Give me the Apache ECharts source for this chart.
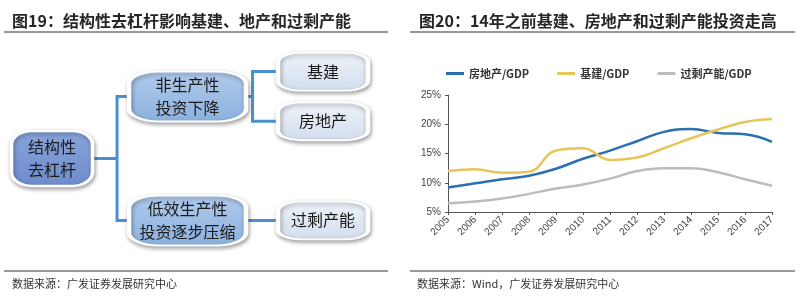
<!DOCTYPE html>
<html>
<head>
<meta charset="utf-8">
<script src="https://cdn.jsdelivr.net/npm/echarts@6/dist/echarts.min.js"></script>
<style>
  html, body { margin: 0; padding: 0; background: #fff; }
  #chart { width: 800px; height: 296px; }
</style>
</head>
<body>
<div id="chart"></div>
<script>
// left panel: the diagram
const rootLabel = '结构性\n去杠杆'
const midLabels = ['非生产性\n投资下降', '低效生产性\n投资逐步压缩']
const leafLabels = [['基建', '房地产'], ['过剩产能']]

// right panel: share of GDP, %
const years = ['2005', '2006', '2007', '2008', '2009', '2010', '2011', '2012', '2013', '2014', '2015', '2016', '2017']
const realEstate = [9.2, 9.9, 10.6, 11.2, 12.4, 14.1, 15.5, 17.1, 18.7, 19.2, 18.5, 18.3, 17.0]
const infra = [12.0, 12.3, 11.7, 11.9, 15.5, 15.9, 13.9, 14.3, 15.9, 17.6, 19.1, 20.4, 20.9]
const overCapacity = [6.5, 6.8, 7.3, 8.1, 9.0, 9.7, 10.7, 12.0, 12.5, 12.5, 11.8, 10.6, 9.5]
const seriesNames = ['房地产/GDP', '基建/GDP', '过剩产能/GDP']
const yTicks = [5, 10, 15, 20, 25]

const colorSets = ['#2b6fae', '#e6c65a', '#bcbcbc']
const cjk = '"Noto Sans CJK SC", "Liberation Sans", sans-serif'

function grad(top, bottom) {
  return { type: 'linear', x: 0, y: 0, x2: 0, y2: 1, colorStops: [{ offset: 0, color: top }, { offset: 1, color: bottom }] }
}

const boxStyle = {
  root: { size: [81, 55], fill: grad('#8aa5dc', '#6d8bcb') },
  mid: { size: [117, 50], fill: grad('#b0cbec', '#8bb0de') },
  leaf: { size: [90, 38], fill: grad('#eef3f9', '#d2dded') }
}

function node(name, kind, children) {
  const s = boxStyle[kind]
  const n = {
    name: name,
    symbolSize: s.size,
    itemStyle: {
      color: s.fill,
      borderColor: '#ffffff',
      borderWidth: 3,
      shadowBlur: 4,
      shadowOffsetX: 1,
      shadowOffsetY: 2,
      shadowColor: 'rgba(0,0,0,0.35)'
    }
  }
  if (children) n.children = children
  return n
}

function buildTree() {
  return [node(rootLabel, 'root', midLabels.map(function (m, i) {
    return node(m, 'mid', leafLabels[i].map(function (l) { return node(l, 'leaf') }))
  }))]
}

const treeBox = { left: 52, top: 22, width: 271, height: 248 }
const nodeLabel = {
  show: true,
  position: 'inside',
  fontFamily: cjk,
  fontSize: 16,
  lineHeight: 23,
  color: '#1a1a1a'
}

const Chart = echarts.init(document.getElementById('chart'))
Chart.setOption({
  animation: false,
  color: colorSets,
  title: [
    { text: '图19：结构性去杠杆影响基建、地产和过剩产能', left: 12, top: 13, padding: 0,
      textStyle: { fontFamily: cjk, fontSize: 16, fontWeight: 'bold', color: '#262626' } },
    { text: '图20：14年之前基建、房地产和过剩产能投资走高', left: 419, top: 13, padding: 0,
      textStyle: { fontFamily: cjk, fontSize: 16, fontWeight: 'bold', color: '#262626' } },
    { text: '数据来源：广发证券发展研究中心', left: 12, top: 278, padding: 0,
      textStyle: { fontFamily: cjk, fontSize: 11, fontWeight: 'normal', color: '#333' } },
    { text: '数据来源：Wind，广发证券发展研究中心', left: 417, top: 278, padding: 0,
      textStyle: { fontFamily: cjk, fontSize: 11, fontWeight: 'normal', color: '#333' } }
  ],
  graphic: [
    { type: 'line', shape: { x1: 4, y1: 32, x2: 388, y2: 32 }, style: { stroke: '#333', lineWidth: 1 } },
    { type: 'line', shape: { x1: 410, y1: 32, x2: 795, y2: 32 }, style: { stroke: '#333', lineWidth: 1 } },
    { type: 'line', shape: { x1: 4, y1: 271, x2: 388, y2: 271 }, style: { stroke: '#333', lineWidth: 1 } },
    { type: 'line', shape: { x1: 410, y1: 271, x2: 795, y2: 271 }, style: { stroke: '#333', lineWidth: 1 } }
  ],
  legend: {
    left: 441,
    top: 63,
    itemWidth: 18,
    itemHeight: 3,
    itemGap: 28,
    icon: 'rect',
    data: seriesNames,
    textStyle: { fontFamily: cjk, fontSize: 11, fontWeight: 'bold', color: '#333' }
  },
  grid: { left: 448, right: 28, top: 95, bottom: 84 },
  xAxis: {
    type: 'category',
    boundaryGap: false,
    data: years,
    axisLine: { lineStyle: { color: '#555', width: 1 } },
    axisTick: { show: true, length: 3, lineStyle: { color: '#555' } },
    axisLabel: { rotate: 45, fontSize: 10, margin: 6, color: '#404040', fontFamily: 'Liberation Sans', interval: 0 }
  },
  yAxis: {
    type: 'value',
    min: yTicks[0],
    max: yTicks[yTicks.length - 1],
    interval: 5,
    splitLine: { show: false },
    axisLine: { show: true, lineStyle: { color: '#555', width: 1 } },
    axisTick: { show: true, length: 3, lineStyle: { color: '#555' } },
    axisLabel: { fontSize: 10, margin: 7, color: '#404040', fontFamily: 'Liberation Sans', formatter: '{value}%' }
  },
  series: [
    // connectors only
    Object.assign({
      type: 'tree',
      data: buildTree(),
      orient: 'LR',
      layout: 'orthogonal',
      edgeShape: 'polyline',
      edgeForkPosition: '48%',
      expandAndCollapse: false,
      roam: false,
      symbolSize: 1,
      itemStyle: { opacity: 0 },
      label: { show: false },
      leaves: { label: { show: false } },
      lineStyle: { color: '#4b8fd3', width: 3, curveness: 0 },
      silent: true,
      z: 1
    }, treeBox),
    // boxes with text
    Object.assign({
      type: 'tree',
      data: buildTree(),
      orient: 'LR',
      layout: 'orthogonal',
      edgeShape: 'polyline',
      expandAndCollapse: false,
      roam: false,
      symbol: 'roundRect',
      label: nodeLabel,
      leaves: { label: nodeLabel },
      lineStyle: { opacity: 0, width: 0 },
      silent: true,
      z: 2
    }, treeBox),
    { name: seriesNames[0], type: 'line', data: realEstate, smooth: 0.45, showSymbol: false, lineStyle: { width: 2.5 } },
    { name: seriesNames[1], type: 'line', data: infra, smooth: 0.45, showSymbol: false, lineStyle: { width: 2.5 } },
    { name: seriesNames[2], type: 'line', data: overCapacity, smooth: 0.45, showSymbol: false, lineStyle: { width: 2.5 } }
  ]
})
</script>
</body>
</html>
